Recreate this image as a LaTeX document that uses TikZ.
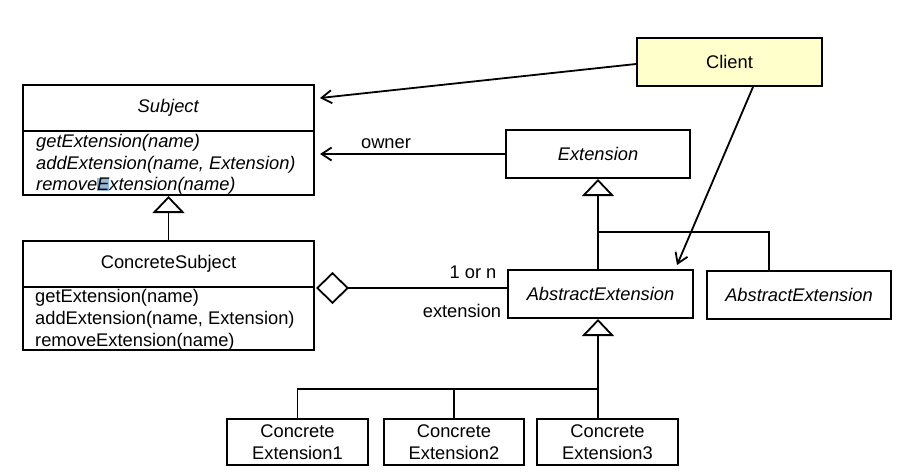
\documentclass[tikz,border=0pt]{standalone}
\usepackage{fontspec}
\setmainfont{Liberation Sans}
\usetikzlibrary{arrows.meta}
\definecolor{clientfill}{RGB}{255,255,204}
\definecolor{hl}{RGB}{147,184,216}
\begin{document}
\begin{tikzpicture}[x=1pt,y=-1pt,
  every node/.style={font=\fontsize{18.3}{22.5}\selectfont},
  cls/.style={draw, line width=2pt, rectangle, anchor=north west, inner sep=0pt, align=center},
  methtext/.style={anchor=north west, inner sep=0pt, align=left, font=\fontsize{18.3}{21.6}\selectfont},
  conn/.style={line width=1.8pt},
  gen/.style={conn, -{Triangle[open, length=17pt, width=32pt]}},
  nav/.style={conn, -{Straight Barb[length=10pt, width=13pt]}},
  lbl/.style={inner sep=0pt}
]
\useasboundingbox (0,0) rectangle (906,475);

% classes
\node[cls, minimum width=291pt, minimum height=46pt] (subj) at (22,84) {\textit{Subject}};
\node[cls, minimum width=291pt, minimum height=64pt] (subjm) at (22,130) {};
\node[methtext] (subjmt) at (36,133.5)
  {\rule{0pt}{14pt}\textit{getExtension(name)}\\
   \textit{addExtension(name, Extension)}\\
   \textit{remove{\setlength{\fboxsep}{0pt}\colorbox{hl}{E}}xtension(name)}};
\node[cls, minimum width=291pt, minimum height=46pt] (csubj) at (22,240) {ConcreteSubject};
\node[cls, minimum width=291pt, minimum height=63pt] (csubjm) at (22,286) {};
\node[methtext] (csubjmt) at (35,288.7)
  {\rule{0pt}{14pt}getExtension(name)\\addExtension(name, Extension)\\removeExtension(name)};
\node[cls, fill=clientfill, minimum width=185pt, minimum height=48pt] (client) at (636,37) {Client};
\node[cls, minimum width=184pt, minimum height=48pt] (ext) at (505,129) {\textit{Extension}};
\node[cls, minimum width=185pt, minimum height=48pt] (abs1) at (507,269) {\textit{AbstractExtension}};
\node[cls, minimum width=184pt, minimum height=48pt] (abs2) at (706,270) {\textit{AbstractExtension}};
\node[cls, minimum width=141pt, minimum height=46pt] (conc1) at (226,418) {Concrete\\Extension1};
\node[cls, minimum width=140pt, minimum height=46pt] (conc2) at (383,418) {Concrete\\Extension2};
\node[cls, minimum width=141pt, minimum height=46pt] (conc3) at (536,418) {Concrete\\Extension3};

% generalizations
\draw[gen] (csubj.north) -- (subjm.south);
\coordinate (j1) at (597,232);
\draw[gen] (abs1.north -| ext.south) -- (ext.south);
\draw[conn] (j1) -| ([xshift=-30pt]abs2.north);
\coordinate (j2) at (597,389);
\draw[gen] (conc3.north -| ext.south) -- (abs1.south -| ext.south);
\draw[conn] (conc1.north) |- (j2);
\draw[conn] (conc2.north) -- (conc2.north |- j2);

% aggregation
\draw[conn, {Diamond[open, length=33pt, width=32pt]}-] ([xshift=1pt]csubj.south east) -- (csubj.south east -| abs1.west);
\node[lbl] (onen) at (473,272) {1 or n};
\node[lbl] (extl) at (462,311) {extension};

% navigations
\draw[nav] (ext.west) -- ([xshift=5pt]subjm.east |- ext.west);
\node[lbl] (owner) at (386,144) {owner};
\draw[nav] ([yshift=-2pt]client.west) -- ([xshift=5pt,yshift=10pt]subj.east);
\draw[nav] ([xshift=23.5pt]client.south) -- ([xshift=76.5pt,yshift=4pt]abs1.north);
\end{tikzpicture}
\end{document}
